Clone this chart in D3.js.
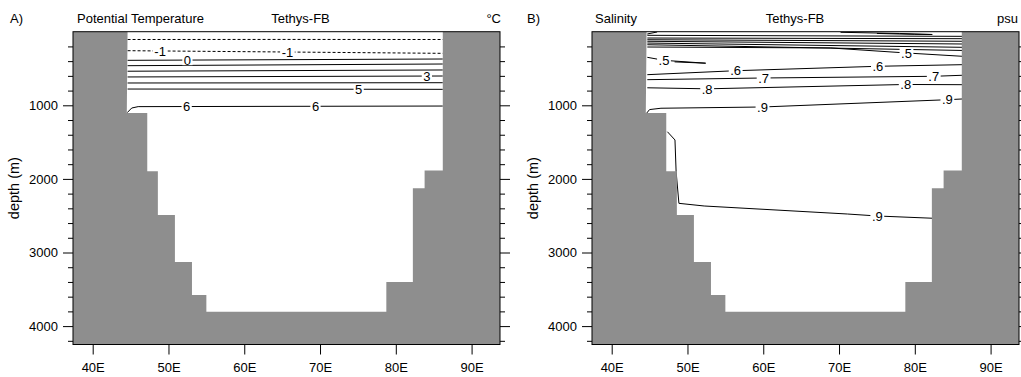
<!DOCTYPE html>
<html>
<head>
<meta charset="utf-8">
<script src="https://cdn.jsdelivr.net/npm/d3@7"></script>
<style>
body { margin: 0; background: #fff; }
text { font-family: "Liberation Sans", Arial, sans-serif; fill: #000; }
</style>
</head>
<body>
<div id="the_chart"></div>
<script>
// axis ticks
var lonTicks = [40, 50, 60, 70, 80, 90];
var depthTicks = [1000, 2000, 3000, 4000];
var depthMinor = [200, 400, 600, 800, 1200, 1400, 1600, 1800, 2200, 2400, 2600, 2800,
                  3200, 3400, 3600, 3800, 4200];

// sea floor outline (lon, depth m), stepped model grid
var bathy = [[37.4, 0], [44.6, 0], [44.5, 1104], [47.2, 1104], [47.2, 1896], [48.6, 1896],
             [48.6, 2490], [50.85, 2490], [50.85, 3130], [53.1, 3130], [53.1, 3577],
             [55.0, 3577], [55.0, 3804], [78.75, 3804], [78.75, 3400], [82.25, 3400],
             [82.25, 2127], [83.8, 2127], [83.8, 1886], [86.2, 1886], [86.2, 0],
             [93.75, 0], [93.75, 4250], [37.4, 4250]];

// potential temperature contours
var tempLevels = [-2, -1, 0, 1, 2, 3, 4, 5, 6];
var tempLines = [
    [[44.6, 106], [65, 105], [86.2, 106]],
    [[44.6, 258], [65.7, 276], [86.2, 294]],
    [[44.6, 389], [86.2, 371]],
    [[44.6, 462], [86.2, 439]],
    [[44.6, 537], [86.2, 520]],
    [[44.6, 615], [86.2, 602]],
    [[44.6, 697], [86.2, 693]],
    [[44.6, 779], [86.2, 783]],
    [[44.55, 1100], [45.15, 1037], [46, 1018], [86.2, 1010]]
];
var tempLabels = [["-1", 48.9, 262], ["-1", 65.7, 276], ["0", 52.5, 387], ["3", 84.1, 603],
                  ["5", 75.1, 782], ["6", 52.4, 1016], ["6", 69.4, 1013]];

// salinity contours
var salLines = [
    [[44.7, 31], [46.0, 4]],
    [[70.2, 8], [78, 24], [82.3, 38], [80, 36], [75, 24]],
    [[44.7, 49], [86.27, 63]],
    [[44.7, 86], [86.27, 95]],
    [[44.7, 109], [86.27, 130]],
    [[44.7, 130], [86.27, 167]],
    [[44.7, 154], [86.27, 212]],
    [[44.7, 177], [86.27, 255]],
    [[44.7, 208], [68.9, 221], [78.9, 289], [86.27, 334]],
    [[44.7, 348], [46.9, 389], [52.4, 428], [48.3, 410]],
    [[44.7, 584], [56.36, 530], [75.13, 470], [86.27, 448]],
    [[44.7, 762], [52.6, 776], [78.8, 717], [86.27, 720]],
    [[44.7, 652], [60.05, 629], [82.5, 606], [86.27, 592]],
    [[44.6, 1108], [45.0, 1058], [46.5, 1040], [59.9, 1023], [84.3, 924], [86.27, 914]],
    [[47.35, 1359], [48.35, 1471], [48.5, 1902], [48.87, 2332], [52.2, 2368], [71.1, 2477],
     [75.05, 2504], [82.44, 2535]]
];
var salLabels = [[".5", 46.9, 389], [".5", 78.9, 289], [".6", 56.36, 530], [".6", 75.13, 470],
                 [".7", 60.05, 629], [".7", 82.5, 606], [".8", 52.6, 776], [".8", 78.8, 717],
                 [".9", 59.9, 1023], [".9", 84.3, 924], [".9", 75.05, 2504]];

var svg = d3.select("#the_chart")
            .append("svg")
            .attr("width", 1021)
            .attr("height", 377);

gen_panel({x0: 73, id: "a", letter: "A)", letterX: 10, left: "Potential Temperature", leftX: 77,
           center: "Tethys-FB", centerX: 300.5, unit: "\u00B0C", unitX: 501,
           lines: tempLines, levels: tempLevels, labels: tempLabels});
gen_panel({x0: 592, id: "b", letter: "B)", letterX: 527, left: "Salinity", leftX: 595,
           center: "Tethys-FB", centerX: 795, unit: "psu", unitX: 1018,
           lines: salLines, levels: null, labels: salLabels});

function gen_panel(p) {
    var w = 427;
    var top = 31.7, bottom = 344.5;

    var xscale = d3.scaleLinear().domain([37.4, 93.75]).range([p.x0, p.x0 + w]);
    var yscale = d3.scaleLinear().domain([0, 4250]).range([top, bottom]);

    var g = svg.append("g");

    g.append("clipPath").attr("id", "clip_" + p.id)
      .append("rect")
        .attr("x", p.x0).attr("y", top)
        .attr("width", w).attr("height", bottom - top);

    var line = d3.line()
                 .x(function(d) { return xscale(d[0]); })
                 .y(function(d) { return yscale(d[1]); });

    var plot = g.append("g").attr("clip-path", "url(#clip_" + p.id + ")");

    plot.selectAll("path.contour")
        .data(p.lines)
      .enter().append("path")
        .attr("class", "contour")
        .attr("d", line)
        .attr("fill", "none")
        .attr("stroke", "#000")
        .attr("stroke-width", 1)
        .attr("stroke-dasharray", function(d, i) {
            if (p.levels && p.levels[i] < 0) { return "3,2"; }
            return null;
        });

    // labels sit in white boxes that cut the line
    var lab = plot.selectAll("g.lab")
        .data(p.labels)
      .enter().append("g")
        .attr("class", "lab")
        .attr("transform", function(d) {
            return "translate(" + xscale(d[1]) + "," + yscale(d[2]) + ")";
        });
    var box = lab.append("rect").attr("fill", "#fff");
    lab.append("text")
        .attr("text-anchor", "middle")
        .attr("dy", "0.36em")
        .style("font-size", "13px")
        .text(function(d) { return d[0]; });
    box.each(function() {
        var t = d3.select(this.parentNode).select("text").node().getBBox();
        d3.select(this)
          .attr("x", t.x - 1.5).attr("y", -5)
          .attr("width", t.width + 3).attr("height", 10);
    });

    plot.append("path")
        .datum(bathy)
        .attr("d", line)
        .attr("fill", "#8e8e8e")
        .attr("stroke", "none");

    g.append("rect")
        .attr("x", p.x0).attr("y", top)
        .attr("width", w).attr("height", bottom - top)
        .attr("fill", "none")
        .attr("stroke", "#000")
        .attr("stroke-width", 1);

    // axes
    var yaxis = d3.axisLeft(yscale).tickValues(depthTicks).tickSize(10).tickPadding(5)
                  .tickFormat(d3.format("d"));
    var ymin = d3.axisLeft(yscale).tickValues(depthMinor).tickSize(5).tickFormat("");
    var yaxisR = d3.axisRight(yscale).tickValues(depthTicks).tickSize(10).tickFormat("");
    var yminR = d3.axisRight(yscale).tickValues(depthMinor).tickSize(5).tickFormat("");
    var xaxis = d3.axisBottom(xscale).tickValues(lonTicks).tickSize(10).tickPadding(8)
                  .tickFormat(function(d) { return d + "E"; });

    var axes = [[yaxis, "translate(" + p.x0 + ",0)"], [ymin, "translate(" + p.x0 + ",0)"],
                [yaxisR, "translate(" + (p.x0 + w) + ",0)"], [yminR, "translate(" + (p.x0 + w) + ",0)"],
                [xaxis, "translate(0," + bottom + ")"]];
    axes.forEach(function(a) {
        var ga = g.append("g").attr("transform", a[1]).call(a[0]);
        ga.select(".domain").remove();
        ga.selectAll("line").attr("stroke", "#000");
        ga.selectAll("text").style("font-size", "13px")
          .attr("font-family", null).attr("fill", "#000");
    });

    g.append("text")
        .attr("transform", "translate(" + (p.x0 - 54) + "," + ((top + bottom) / 2) + ") rotate(-90)")
        .attr("text-anchor", "middle")
        .style("font-size", "14.5px")
        .text("depth (m)");

    // header strings
    g.append("text").attr("x", p.letterX).attr("y", 22.5).style("font-size", "13px").text(p.letter);
    g.append("text").attr("x", p.leftX).attr("y", 22.5).style("font-size", "13px").text(p.left);
    g.append("text").attr("x", p.centerX).attr("y", 22.5).attr("text-anchor", "middle")
      .style("font-size", "13px").text(p.center);
    g.append("text").attr("x", p.unitX).attr("y", 22.5).attr("text-anchor", "end")
      .style("font-size", "13px").text(p.unit);
}
</script>
</body>
</html>
